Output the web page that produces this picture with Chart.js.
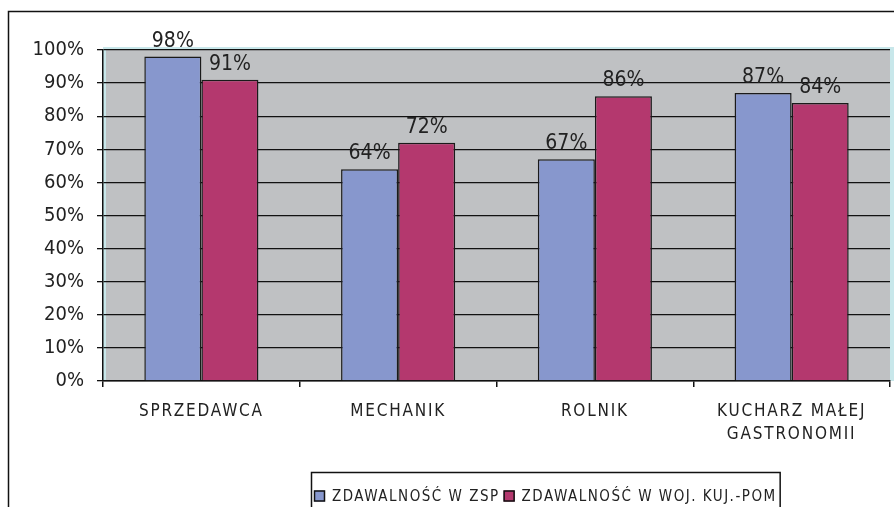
<!DOCTYPE html>
<html>
<head>
<meta charset="utf-8">
<script src="https://cdn.jsdelivr.net/npm/chart.js@4.4.0/dist/chart.umd.min.js"></script>
<style>
  html, body { margin: 0; padding: 0; background: #fff; }
  #wrap { width: 894px; height: 507px; position: relative; }
</style>
</head>
<body>
<div id="wrap"><canvas id="examChart" width="894" height="507"></canvas></div>
<script>
// --- Data ---
const categories = ['SPRZEDAWCA', 'MECHANIK', 'ROLNIK', ['KUCHARZ MAŁEJ', 'GASTRONOMII']];
const seriesNames = ['ZDAWALNOŚĆ W ZSP', 'ZDAWALNOŚĆ W WOJ. KUJ.-POM'];
const zspValues = [98, 64, 67, 87];
const wojValues = [91, 72, 86, 84];
const yTickMax = 100;
const yTickStep = 10;

const FONT = '"DejaVu Sans Condensed", "DejaVu Sans", sans-serif';
const blue = '#8797cd';
const red = '#b4386e';

// category axis with spaced-out letters
class SpacedCategoryScale extends Chart.CategoryScale {
    drawLabels(area) {
        this.ctx.save();
        this.ctx.letterSpacing = '1.8px';
        super.drawLabels(area);
        this.ctx.restore();
    }
}
SpacedCategoryScale.id = 'spacedCategory';
SpacedCategoryScale.defaults = Chart.CategoryScale.defaults;
Chart.register(SpacedCategoryScale);

// background, frame and plot area
const backdrop = {
    id: 'backdrop',
    beforeDraw(chart) {
        const ctx = chart.ctx;
        const a = chart.chartArea;
        ctx.save();
        ctx.fillStyle = '#fff';
        ctx.fillRect(0, 0, chart.width, chart.height);
        // outer frame (only top and left visible)
        ctx.strokeStyle = '#111';
        ctx.lineWidth = 1.5;
        ctx.beginPath();
        ctx.moveTo(8.5, chart.height + 2);
        ctx.lineTo(8.5, 11.5);
        ctx.lineTo(chart.width + 2, 11.5);
        ctx.stroke();
        // plot area
        ctx.fillStyle = '#c8e7ea';
        ctx.fillRect(a.left, a.top - 3, a.right - a.left + 4, a.bottom - a.top + 3);
        ctx.fillStyle = '#bfc1c3';
        ctx.fillRect(a.left + 3, a.top, a.right - a.left - 3, a.bottom - a.top);
        ctx.restore();
    }
};

// value labels above bars
const valueLabels = {
    id: 'valueLabels',
    afterDatasetsDraw(chart) {
        const ctx = chart.ctx;
        ctx.save();
        ctx.font = '21px ' + FONT;
        ctx.fillStyle = '#222';
        ctx.textAlign = 'center';
        ctx.textBaseline = 'bottom';
        chart.data.datasets.forEach((ds, i) => {
            chart.getDatasetMeta(i).data.forEach((bar, j) => {
                ctx.fillText(ds.data[j] + '%', bar.x, bar.y - 5);
            });
        });
        ctx.restore();
    }
};

// boxed legend under the chart
const boxLegend = {
    id: 'boxLegend',
    afterDraw(chart) {
        const ctx = chart.ctx;
        const sets = chart.data.datasets;
        ctx.save();
        ctx.font = '15px ' + FONT;
        ctx.letterSpacing = '1.5px';
        const mark = 11, gapMark = 7, gapItem = 4, pad = 3;
        const widths = sets.map(ds => ctx.measureText(ds.label).width);
        let total = pad * 2;
        widths.forEach((w, i) => { total += mark + gapMark + w + (i ? gapItem : 0); });
        const center = 545;
        const top = 472;
        let x = Math.round(center - total / 2);
        ctx.strokeStyle = '#111';
        ctx.lineWidth = 1.5;
        ctx.fillStyle = '#fff';
        ctx.fillRect(x, top, total, 60);
        ctx.strokeRect(x + 0.5, top + 0.5, total, 60);
        const cy = 496;
        x += pad;
        sets.forEach((ds, i) => {
            if (i) x += gapItem;
            ctx.fillStyle = ds.backgroundColor;
            ctx.fillRect(x, cy - mark / 2, mark, mark);
            ctx.lineWidth = 1.5;
            ctx.strokeRect(x + 0.5, cy - mark / 2 + 0.5, mark - 1, mark - 1);
            x += mark + gapMark;
            ctx.fillStyle = '#222';
            ctx.textBaseline = 'middle';
            ctx.fillText(ds.label, x, cy + 1);
            x += widths[i];
        });
        ctx.restore();
    }
};

const ctx = document.getElementById('examChart');
new Chart(ctx.getContext('2d'), {
    type: 'bar',
    data: {
        labels: categories,
        datasets: [{
            label: seriesNames[0],
            data: zspValues,
            backgroundColor: blue,
            borderColor: '#1a1a1a',
            borderWidth: 1.5
        }, {
            label: seriesNames[1],
            data: wojValues,
            backgroundColor: red,
            borderColor: '#1a1a1a',
            borderWidth: 1.5
        }]
    },
    options: {
        responsive: false,
        animation: false,
        devicePixelRatio: 1,
        layout: { padding: { top: 50, right: 4, left: 0, bottom: 0 } },
        datasets: {
            bar: { categoryPercentage: 0.58, barPercentage: 1 }
        },
        plugins: {
            legend: { display: false },
            tooltip: { enabled: false }
        },
        scales: {
            x: {
                type: 'spacedCategory',
                offset: true,
                grid: { offset: true, drawOnChartArea: false, color: '#111', tickLength: 6, lineWidth: 1.5 },
                border: { color: '#111', width: 1.5 },
                ticks: {
                    color: '#222',
                    padding: 13,
                    font: { family: FONT, size: 17, lineHeight: 1.35 },
                    maxRotation: 0,
                    autoSkip: false
                },
                afterFit(scale) { scale.height = 126; }
            },
            y: {
                min: 0,
                max: yTickMax,
                grid: { color: '#111', tickLength: 6, lineWidth: 1.3 },
                border: { color: '#111', width: 1.5 },
                ticks: {
                    stepSize: yTickStep,
                    color: '#222',
                    padding: 13,
                    font: { family: FONT, size: 20 },
                    callback: v => v + '%'
                },
                afterFit(scale) { scale.width = 103; }
            }
        }
    },
    plugins: [backdrop, valueLabels, boxLegend]
});
</script>
</body>
</html>
